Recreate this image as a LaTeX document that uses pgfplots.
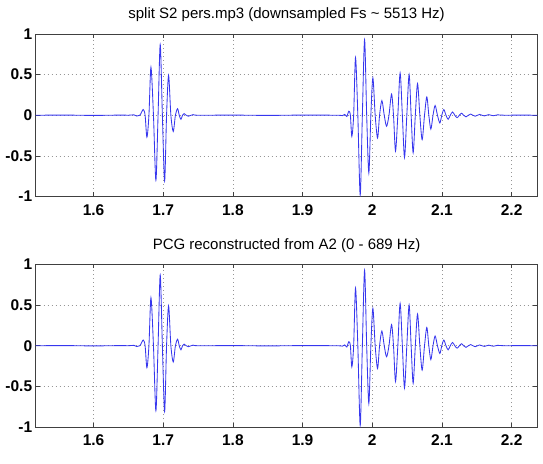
\documentclass[border=0pt]{standalone}
\usepackage{pgfplots}
\pgfplotsset{compat=1.18}
\usepackage{pgfplotstable}
\usepackage{fontspec}
\setmainfont{Liberation Sans}

\definecolor{sigblue}{RGB}{55,55,238}
\definecolor{gridgray}{RGB}{150,150,150}

% PCG waveform: extrema and zero crossings of the two heart-sound bursts
\pgfplotstableread{
t y
1.5170 0
1.5600 0.002
1.6000 -0.002
1.6400 0.002
1.6500 0
1.6580 0.005
1.6620 -0.010
1.6665 0
1.6713 0.07
1.6740 0
1.6766 -0.27
1.6795 0
1.6824 0.59
1.6860 0
1.6895 -0.80
1.6926 0
1.6957 0.87
1.6988 0
1.7020 -0.81
1.7048 0
1.7077 0.49
1.7110 0
1.7144 -0.20
1.7175 0
1.7206 0.08
1.7230 0
1.7254 -0.05
1.7277 0
1.7300 0.02
1.7330 0
1.7360 -0.012
1.7400 0
1.7430 0.008
1.7500 0
1.8000 0.002
1.8500 -0.002
1.9000 0.002
1.9500 0
1.9570 -0.005
1.9605 0.010
1.9635 -0.015
1.9664 0.05
1.9686 0
1.9707 -0.26
1.9733 0
1.9760 0.71
1.9793 0
1.9827 -0.98
1.9858 0
1.9890 0.93
1.9920 0
1.9951 -0.71
1.9980 0
2.0009 0.46
2.0042 0
2.0076 -0.28
2.0105 0
2.0138 0.18
2.0172 0
2.0205 -0.135
2.0240 0
2.0277 0.26
2.0305 0
2.0334 -0.44
2.0367 0
2.0400 0.52
2.0432 0
2.0463 -0.52
2.0496 0
2.0529 0.50
2.0558 0
2.0587 -0.46
2.0618 0
2.0650 0.39
2.0683 0
2.0716 -0.30
2.0750 0
2.0783 0.225
2.0812 0
2.0841 -0.17
2.0872 0
2.0902 0.12
2.0936 0
2.0970 -0.095
2.0998 0
2.1027 0.07
2.1058 0
2.1089 -0.05
2.1120 0
2.1152 0.04
2.1185 0
2.1218 -0.03
2.1250 0
2.1282 0.025
2.1310 0
2.1345 -0.02
2.1380 0
2.1412 0.015
2.1445 0
2.1478 -0.012
2.1510 0
2.1542 0.010
2.1575 0
2.1610 -0.008
2.1640 0
2.1672 0.007
2.1705 0
2.1740 -0.006
2.1770 0
2.1800 0.005
2.1900 0
2.2100 0.002
2.2370 0
}\pcgsplit

\pgfplotsset{
  pcgaxis/.style={
    scale only axis,
    width=501.7pt, height=162.5pt,
    anchor=south west,
    xmin=1.517, xmax=2.237,
    ymin=-1, ymax=1,
    xtick={1.6,1.7,1.8,1.9,2.0,2.1,2.2},
    xticklabels={1.6,1.7,1.8,1.9,2,2.1,2.2},
    ytick={-1,-0.5,0,0.5,1},
    yticklabels={-1,-0.5,0,0.5,1},
    tick align=inside,
    major tick length=4pt,
    tick style={black!75, line width=0.6pt},
    axis line style={black!75, line width=0.8pt},
    grid=major,
    major grid style={gridgray, line width=0.7pt, dash pattern=on 0.7pt off 3.3pt},
    ticklabel style={font=\fontsize{15.5}{18}\selectfont\bfseries},
    xticklabel style={yshift=-4.5pt},
    title style={font=\fontsize{15}{18}\selectfont, yshift=2.4pt},
    /pgf/number format/assume math mode=true,
  },
  pcgline/.style={sigblue, line width=0.85pt, smooth, tension=0.5, no marks},
}

\begin{document}
\begin{tikzpicture}
\path[use as bounding box] (0,0) rectangle (543pt,463pt);

\begin{axis}[pcgaxis, at={(35.7pt,266.5pt)},
  title={split S2 pers.mp3 (downsampled Fs \textasciitilde{} 5513 Hz)}]
\addplot[pcgline] table[x=t, y=y] {\pcgsplit};
\end{axis}

\begin{axis}[pcgaxis, at={(35.7pt,36pt)},
  title={PCG reconstructed from A2 (0 - 689 Hz)}]
\addplot[pcgline] table[x=t, y=y] {\pcgsplit};
\end{axis}
\end{tikzpicture}
\end{document}
